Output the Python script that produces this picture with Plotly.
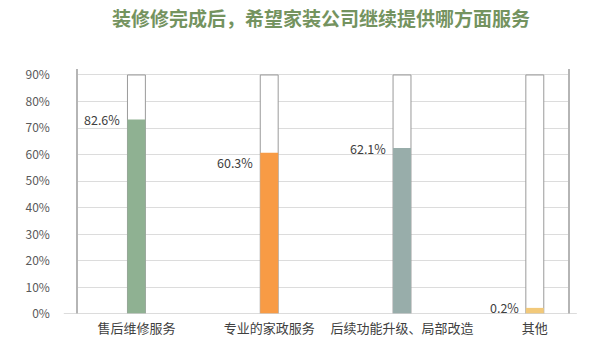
import plotly.graph_objects as go

categories = ["售后维修服务", "专业的家政服务", "后续功能升级、局部改造", "其他"]
bar_values = [73.2, 60.7, 62.5, 2.3]
label_text = ["82.6%", "60.3%", "62.1%", "0.2%"]
bar_colors = ["#8fb192", "#f89b45", "#98adaa", "#f2c97a"]
background_max = [90, 90, 90, 90]
y_ticks = [0, 10, 20, 30, 40, 50, 60, 70, 80, 90]
label_yshift = [0, -10, 0, 0]

FONT = "Noto Sans CJK SC"

fig = go.Figure()
fig.add_trace(go.Bar(
    x=categories, y=background_max, width=0.135,
    marker=dict(color="white", line=dict(color="#9a9a9a", width=1)),
    hoverinfo="skip", showlegend=False,
))
fig.add_trace(go.Bar(
    x=categories, y=bar_values, width=0.135,
    marker=dict(color=bar_colors, line=dict(width=0)),
    showlegend=False,
))

for i, (c, v, t) in enumerate(zip(categories, bar_values, label_text)):
    fig.add_annotation(
        x=c, y=v, text=t, showarrow=False, xanchor="right", yanchor="middle",
        xshift=-14, yshift=label_yshift[i],
        font=dict(family=FONT, size=12.5, color="#404040"),
    )

fig.add_shape(type="line", xref="paper", yref="y", x0=-0.029, x1=1.018, y0=0, y1=0,
              line=dict(color="#d0d0d0", width=1.5))

fig.update_layout(
    width=600, height=353,
    margin=dict(l=78, r=32, t=69, b=38.5),
    barmode="overlay",
    plot_bgcolor="white", paper_bgcolor="white",
    title=dict(
        text="<b>装修修完成后，希望家装公司继续提供哪方面服务</b>",
        x=0.535, xanchor="center", y=0.945, yanchor="middle",
        font=dict(family=FONT, size=19, color="#74935f"),
    ),
    xaxis=dict(
        type="category", range=[-0.44, 3.25],
        showgrid=False, showline=False, ticks="", ticklabelstandoff=5,
        tickfont=dict(family=FONT, size=13, color="#404040"),
    ),
    yaxis=dict(
        range=[0, 92.25], tickvals=y_ticks, ticktext=[f"{v}%" for v in y_ticks],
        showgrid=True, gridcolor="#dcdcdc", gridwidth=1,
        showline=True, linecolor="#b5b5b5", linewidth=1.5, mirror=True,
        zeroline=False, ticks="", ticklabelstandoff=24,
        tickfont=dict(family=FONT, size=12, color="#595959"),
    ),
)

fig.write_html("out.html")
